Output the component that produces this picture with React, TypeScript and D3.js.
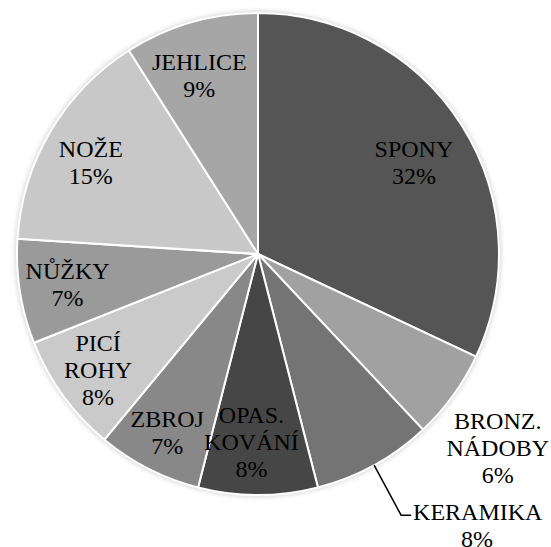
import React from 'react';
import * as d3 from 'd3';

const categories = ['SPONY', 'BRONZ.\nNÁDOBY', 'KERAMIKA', 'OPAS.\nKOVÁNÍ', 'ZBROJ', 'PICÍ\nROHY', 'NŮŽKY', 'NOŽE', 'JEHLICE'];
const shares = [32, 6, 8, 8, 7, 8, 7, 15, 9];
const sliceColors = ['#555555', '#a1a1a1', '#747474', '#464646', '#888888', '#cacaca', '#9a9a9a', '#c8c8c8', '#a6a6a6'];
// where each label sits, as a fraction of the radius (0 = leader-line label), plus an angle nudge in degrees
const labelRadius = [0.75, 1.28, 0, 0.78, 0.83, 0.82, 0.8, 0.79, 0.78];
const labelNudge = [2, 3, 0, 2, 0, 0, 0, -2, -2];

const W = 551;
const H = 547;
const cx = 258;
const cy = 254;
const R = 241;
const fontSize = 24;
const lineH = 27;

export default function App() {
  const pie = d3.pie<number>().sort(null).value(d => d);
  const arcs = pie(shares);
  const arc = d3.arc<d3.PieArcDatum<number>>().innerRadius(0).outerRadius(R);

  const labelAt = (a: d3.PieArcDatum<number>, f: number, nudge = 0) => {
    const mid = (a.startAngle + a.endAngle) / 2 + (nudge * Math.PI) / 180;
    return [cx + Math.sin(mid) * R * f, cy - Math.cos(mid) * R * f];
  };

  const labels: React.ReactNode[] = [];
  arcs.forEach((a, i) => {
    const lines = [...categories[i].split('\n'), `${shares[i]}%`];
    if (labelRadius[i] === 0) {
      const [sx, sy] = labelAt(a, 1);
      const ex = sx + 27;
      const ey = sy + 50;
      labels.push(<polyline key={'p' + i} points={`${sx},${sy} ${ex},${ey} ${ex + 10},${ey}`} fill="none" stroke="#000" strokeWidth={1.5} />);
      labels.push(<text key={'a' + i} x={ex + 12} y={ey + 5}>{lines[0]}</text>);
      labels.push(<text key={'b' + i} x={ex + 76} y={ey + 5 + lineH} textAnchor="middle">{lines[1]}</text>);
      return;
    }
    const [lx, ly] = labelAt(a, labelRadius[i], labelNudge[i]);
    const first = ly - ((lines.length - 1) * lineH) / 2 + fontSize * 0.33;
    lines.forEach((t, j) => {
      labels.push(<text key={`t${i}-${j}`} x={lx} y={first + j * lineH} textAnchor="middle">{t}</text>);
    });
  });

  return (
    <div style={{ position: 'absolute', left: 0, top: 0, fontFamily: '"Times New Roman", "Liberation Serif", Tinos, serif' }}>
      <svg width={W} height={H} style={{ display: 'block', background: '#fff' }}>
        <defs>
          <filter id="soft" x="-10%" y="-10%" width="120%" height="120%">
            <feGaussianBlur stdDeviation="2.5" />
          </filter>
        </defs>
        <g transform={`translate(${cx},${cy})`}>
          <circle r={R + 1.5} fill="#cfcfcf" filter="url(#soft)" />
          {arcs.map((a, i) => (
            <path key={i} d={arc(a) || ''} fill={sliceColors[i]} stroke="#fff" strokeWidth={2} strokeLinejoin="round" />
          ))}
        </g>
        <g fontSize={fontSize} fill="#000">{labels}</g>
      </svg>
    </div>
  );
}
